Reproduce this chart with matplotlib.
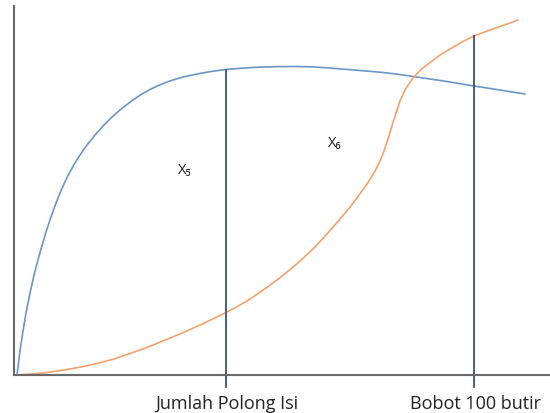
import numpy as np
import matplotlib.pyplot as plt

# values (x from the left axis, y up from the bottom axis)
blue_x = [3, 6, 9, 12, 16, 21, 27, 32, 37, 42, 47, 53, 60, 66, 73, 81, 90, 98, 106,
          113, 119, 127, 136, 144, 153, 161, 169, 186, 199, 212, 226, 244, 261, 281,
          296, 312, 328, 346, 366, 382, 399, 416, 431, 446, 460, 473, 486, 498, 511]
blue_y = [0, 24, 44, 62, 82, 104, 126, 143, 158, 172, 184.5, 197.5, 210.5, 220,
          230, 240, 250, 258, 265, 270.5, 275, 280.5, 285.5, 289.3, 293, 295.6, 298,
          301.6, 303.8, 305.5, 306.7, 307.8, 308.3, 308.5, 308.2, 307.3, 306,
          304.5, 302.8, 301, 298.5, 296, 293.8, 291.3, 289, 287, 285, 283, 281]

orange_x = [3, 18, 33, 50, 67, 83, 100, 116, 133, 150, 167, 189, 211, 222, 233, 250,
            267, 284, 300, 308, 316, 326, 336, 344, 353, 361, 366, 370, 374, 378, 382,
            386, 391, 399, 407, 416, 426, 436, 448, 460, 472, 483, 494, 504]
orange_y = [0, 1, 2.5, 5, 8, 11.5, 16, 21.5, 27.5, 34.5, 41.5, 51.3, 62, 67.8, 74,
            85.5, 98, 112, 127, 135.5, 144.5, 156, 168, 178.5, 191, 204, 214, 224,
            236, 249, 262, 274, 285, 297, 305.5, 312.5, 320, 326, 333, 339, 343.5,
            347.5, 351.3, 355]

cut_x = [212, 460]
cut_labels = ['Jumlah Polong Isi', 'Bobot 100 butir']
region_labels = ['X\u2085', 'X\u2086']
region_pos = [(171, 206), (321, 233)]

W, H = 550, 414
fig = plt.figure(figsize=(W / 100, H / 100), dpi=100)
ax = fig.add_axes([14 / W, (H - 376) / H, (W - 14) / W, (376 - 7) / H])
ax.set_xlim(0, W - 14)
ax.set_ylim(0, 376 - 7)

ax.plot(blue_x, blue_y, color='#6a96c6', lw=1.2, solid_capstyle='round',
        solid_joinstyle='round')
ax.plot(orange_x, orange_y, color='#f4a16c', lw=1.2, solid_capstyle='round',
        solid_joinstyle='round')

# vertical markers go from below the axis up to the curve they hit
tops = [blue_y[blue_x.index(cut_x[0])], orange_y[orange_x.index(cut_x[1])]]
for x, top, lab in zip(cut_x, tops, cut_labels):
    ax.plot([x, x], [-12, top], color='#26466a', lw=1.2, clip_on=False)
    ax.text(x + 1, -28.5, lab, ha='center', va='center', fontsize=13,
            family='Open Sans', color='#222222', clip_on=False)

for lab, (x, y) in zip(region_labels, region_pos):
    ax.text(x, y, lab, ha='center', va='center', fontsize=10.5,
            family='Open Sans', color='#222222')

for s in ['top', 'right']:
    ax.spines[s].set_visible(False)
for s in ['left', 'bottom']:
    ax.spines[s].set_color('#6a6a6a')
    ax.spines[s].set_linewidth(1.5)
ax.set_xticks([])
ax.set_yticks([])

fig.savefig('out.png', dpi=100)
